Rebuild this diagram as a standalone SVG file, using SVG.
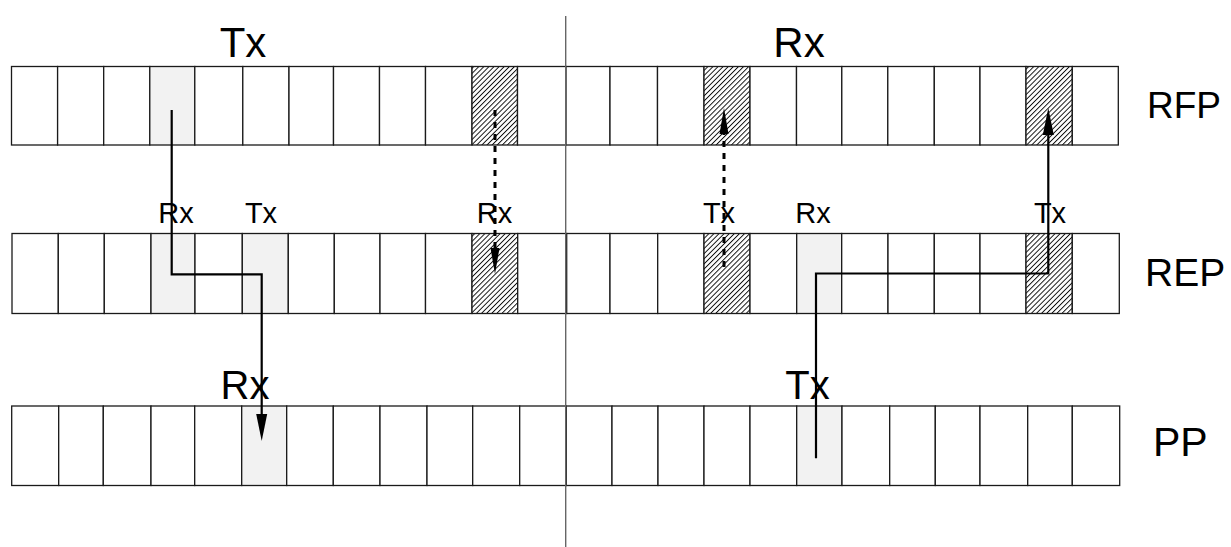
<svg xmlns="http://www.w3.org/2000/svg" width="1231" height="547" viewBox="0 0 1231 547">
<style>
.c{fill:#fff;stroke:#1a1a1a;stroke-width:1.3}
.g{fill:#f2f2f2;stroke:#1a1a1a;stroke-width:1.3}
.h{fill:url(#hatch);stroke:#1a1a1a;stroke-width:1.3}
.t{font-family:"Liberation Sans",Arial,sans-serif;fill:#000}
.ar{fill:none;stroke:#000;stroke-width:2.2;marker-end:url(#ah)}
.dt{fill:none;stroke:#000;stroke-width:3;stroke-dasharray:6 6;marker-end:url(#ahd)}
</style>
<defs>
<pattern id="hatch" patternUnits="userSpaceOnUse" width="3.6" height="3.6" patternTransform="rotate(45)">
<rect width="3.6" height="3.6" fill="#fff"/>
<line x1="0.5" y1="0" x2="0.5" y2="3.6" stroke="#000" stroke-width="0.9"/>
</pattern>
<marker id="ah" markerUnits="userSpaceOnUse" markerWidth="28" markerHeight="12" refX="0" refY="5.5" orient="auto" overflow="visible">
<path d="M0,0 L27,5.5 L0,11 z" fill="#000"/>
</marker>
<marker id="ahd" markerUnits="userSpaceOnUse" markerWidth="28" markerHeight="10" refX="0" refY="4.5" orient="auto" overflow="visible">
<path d="M0,0 L26,4.5 L0,9 z" fill="#000"/>
</marker>
</defs>
<rect width="1231" height="547" fill="#fff"/>

<g id="rfp">
<rect class="c" x="11.5" y="66.5" width="46.1" height="78.5"/>
<rect class="c" x="57.6" y="66.5" width="46.1" height="78.5"/>
<rect class="c" x="103.7" y="66.5" width="46.1" height="78.5"/>
<rect class="g" x="149.8" y="66.5" width="45" height="78.5"/>
<rect class="c" x="194.8" y="66.5" width="48" height="78.5"/>
<rect class="c" x="242.8" y="66.5" width="46.2" height="78.5"/>
<rect class="c" x="289" y="66.5" width="44.5" height="78.5"/>
<rect class="c" x="333.5" y="66.5" width="46" height="78.5"/>
<rect class="c" x="379.5" y="66.5" width="46" height="78.5"/>
<rect class="c" x="425.5" y="66.5" width="46.5" height="78.5"/>
<rect class="h" x="472" y="66.5" width="45.5" height="78.5"/>
<rect class="c" x="517.5" y="66.5" width="48.5" height="78.5"/>
<rect class="c" x="566" y="66.5" width="44" height="78.5"/>
<rect class="c" x="610" y="66.5" width="47.5" height="78.5"/>
<rect class="c" x="657.5" y="66.5" width="46.5" height="78.5"/>
<rect class="h" x="704" y="66.5" width="46" height="78.5"/>
<rect class="c" x="750" y="66.5" width="46.5" height="78.5"/>
<rect class="c" x="796.5" y="66.5" width="45.3" height="78.5"/>
<rect class="c" x="841.8" y="66.5" width="46" height="78.5"/>
<rect class="c" x="887.8" y="66.5" width="46.5" height="78.5"/>
<rect class="c" x="934.3" y="66.5" width="45.7" height="78.5"/>
<rect class="c" x="980" y="66.5" width="46" height="78.5"/>
<rect class="h" x="1026" y="66.5" width="46.3" height="78.5"/>
<rect class="c" x="1072.3" y="66.5" width="46" height="78.5"/>
<text class="t" x="1147" y="118" font-size="37">RFP</text>
</g>

<g id="rep">
<rect class="c" x="12" y="233.5" width="46.3" height="80"/>
<rect class="c" x="58.3" y="233.5" width="46" height="80"/>
<rect class="c" x="104.3" y="233.5" width="46.7" height="80"/>
<rect class="g" x="151" y="233.5" width="44" height="80"/>
<rect class="c" x="195" y="233.5" width="47.3" height="80"/>
<rect class="g" x="242.3" y="233.5" width="46" height="80"/>
<rect class="c" x="288.3" y="233.5" width="46" height="80"/>
<rect class="c" x="334.3" y="233.5" width="45.7" height="80"/>
<rect class="c" x="380" y="233.5" width="45.5" height="80"/>
<rect class="c" x="425.5" y="233.5" width="46.5" height="80"/>
<rect class="h" x="472" y="233.5" width="45.7" height="80"/>
<rect class="c" x="517.7" y="233.5" width="49" height="80"/>
<rect class="c" x="566.7" y="233.5" width="43.3" height="80"/>
<rect class="c" x="610" y="233.5" width="47.7" height="80"/>
<rect class="c" x="657.7" y="233.5" width="46.3" height="80"/>
<rect class="h" x="704" y="233.5" width="46" height="80"/>
<rect class="c" x="750" y="233.5" width="46.7" height="80"/>
<rect class="g" x="796.7" y="233.5" width="45" height="80"/>
<rect class="c" x="841.7" y="233.5" width="46.3" height="80"/>
<rect class="c" x="888" y="233.5" width="46.3" height="80"/>
<rect class="c" x="934.3" y="233.5" width="45.7" height="80"/>
<rect class="c" x="980" y="233.5" width="46" height="80"/>
<rect class="h" x="1026" y="233.5" width="46.3" height="80"/>
<rect class="c" x="1072.3" y="233.5" width="47" height="80"/>
<text class="t" x="1145" y="286" font-size="39">REP</text>
</g>

<g id="pp">
<rect class="c" x="11.7" y="406" width="47" height="79.5"/>
<rect class="c" x="58.7" y="406" width="44.6" height="79.5"/>
<rect class="c" x="103.3" y="406" width="47.7" height="79.5"/>
<rect class="c" x="151" y="406" width="43.7" height="79.5"/>
<rect class="c" x="194.7" y="406" width="47" height="79.5"/>
<rect class="g" x="241.7" y="406" width="45" height="79.5"/>
<rect class="c" x="286.7" y="406" width="46.6" height="79.5"/>
<rect class="c" x="333.3" y="406" width="46.7" height="79.5"/>
<rect class="c" x="380" y="406" width="47" height="79.5"/>
<rect class="c" x="427" y="406" width="45.7" height="79.5"/>
<rect class="c" x="472.7" y="406" width="47" height="79.5"/>
<rect class="c" x="519.7" y="406" width="46.6" height="79.5"/>
<rect class="c" x="566.3" y="406" width="45.7" height="79.5"/>
<rect class="c" x="612" y="406" width="46" height="79.5"/>
<rect class="c" x="658" y="406" width="46" height="79.5"/>
<rect class="c" x="704" y="406" width="46" height="79.5"/>
<rect class="c" x="750" y="406" width="46.7" height="79.5"/>
<rect class="g" x="796.7" y="406" width="45.3" height="79.5"/>
<rect class="c" x="842" y="406" width="47.7" height="79.5"/>
<rect class="c" x="889.7" y="406" width="45.6" height="79.5"/>
<rect class="c" x="935.3" y="406" width="44.7" height="79.5"/>
<rect class="c" x="980" y="406" width="47.7" height="79.5"/>
<rect class="c" x="1027.7" y="406" width="44.6" height="79.5"/>
<rect class="c" x="1072.3" y="406" width="47.4" height="79.5"/>
<text class="t" x="1153" y="456" font-size="41">PP</text>
</g>

<line id="divider" x1="565.7" y1="16" x2="565.7" y2="547" stroke="#666" stroke-width="1.4"/>

<g id="labels" class="t" text-anchor="middle">
<text x="243" y="57" font-size="42">Tx</text>
<text x="799" y="57" font-size="42">Rx</text>
<text x="176" y="223" font-size="29">Rx</text>
<text x="261" y="223" font-size="29">Tx</text>
<text x="494.5" y="223" font-size="29">Rx</text>
<text x="719" y="223" font-size="29">Tx</text>
<text x="813" y="223" font-size="29">Rx</text>
<text x="1050" y="223" font-size="29">Tx</text>
<text x="245" y="399" font-size="40">Rx</text>
<text x="807.5" y="399" font-size="40">Tx</text>
</g>

<g id="connectors">
<path class="ar" d="M171.7,110 V274.3 H261.7 V414"/>
<path class="ar" d="M816,458.3 V273.5 H1048.3 V135"/>
<path class="dt" d="M495,110 V248"/>
<path class="dt" d="M724,267 V134"/>
</g>
</svg>
